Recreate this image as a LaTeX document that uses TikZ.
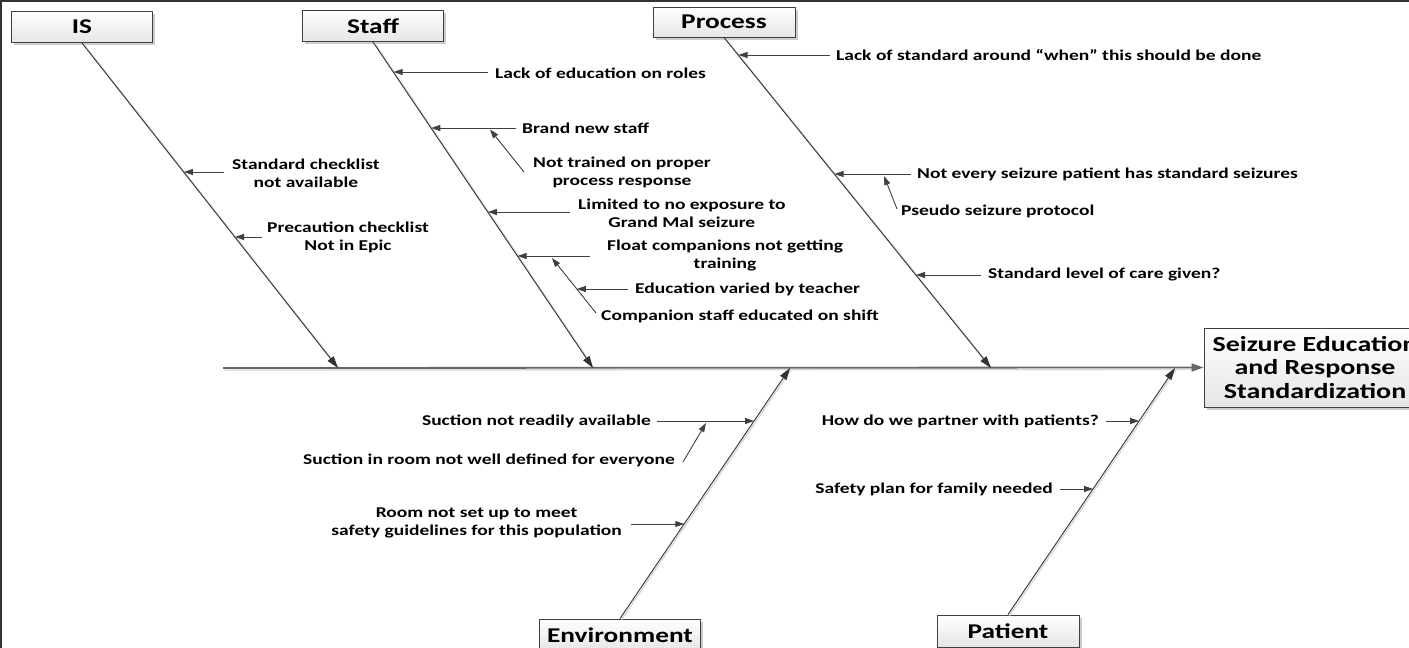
\documentclass[tikz,border=0pt]{standalone}
\usepackage{fontspec}
\setmainfont{Carlito}[FakeStretch=1.3]
\usetikzlibrary{arrows.meta,shadows}
\begin{document}
\begin{tikzpicture}[x=1pt,y=-1pt,
  catbox/.style={draw=black!75, line width=1pt, top color=white, bottom color=black!10,
    inner sep=0pt, font=\bfseries\fontsize{21}{24}\selectfont,
    drop shadow={shadow xshift=2.5pt, shadow yshift=-2.5pt, fill=black, opacity=0.2}},
  cause/.style={font=\bfseries\fontsize{15}{18}\selectfont, inner sep=0pt, align=center, text=black},
  spine/.style={draw=black!60, line width=1.8pt, -{Triangle[length=12pt,width=8pt]}},
  bone/.style={draw=black!80, line width=0.9pt, -{Triangle[length=12pt,width=7.5pt]}},
  sub/.style={draw=black!75, line width=0.9pt, -{Triangle[length=9pt,width=6pt]}},
  bshadow/.style={draw=black!15, line width=1.4pt},
]
\useasboundingbox (0,0) rectangle (1409,648);
\clip (0,0) rectangle (1409,648);
\fill[white] (0,0) rectangle (1409,648);
\draw[black!80, line width=3pt] (0,648) -- (0,0) -- (1409,0);

% category and effect boxes
\node[catbox, minimum width=141pt, minimum height=31pt] (is) at (82,27) {IS};
\node[catbox, minimum width=141pt, minimum height=31pt] (staff) at (373,26) {Staff};
\node[catbox, minimum width=142pt, minimum height=30pt] (process) at (724,22) {Process};
\node[catbox, minimum width=161pt, minimum height=32pt] (env) at (620,635) {Environment};
\node[catbox, minimum width=142pt, minimum height=32pt] (patient) at (1008,631) {Patient};
\node[catbox, minimum width=222pt, minimum height=79pt, align=center,
  font=\bfseries\fontsize{21.5}{23.5}\selectfont] (effect) at (1315,367.5)
  {Seizure Education\\and Response\\Standardization};

% bone end points
\coordinate (tail) at (223,368);
\coordinate (isend) at (338,368);
\coordinate (staffend) at (593,368);
\coordinate (procend) at (991,368);
\coordinate (envend) at (790,368);
\coordinate (patend) at (1175,368);

% shadows of lines
\draw[bshadow] ([shift={(1.5,2)}]tail) -- ([shift={(-10,2)}]effect.west);
\draw[bshadow] ([shift={(1.5,1)}]is.south) -- ([shift={(1.5,1)}]isend);
\draw[bshadow] ([shift={(1.5,1)}]staff.south) -- ([shift={(1.5,1)}]staffend);
\draw[bshadow] ([shift={(1.5,1)}]process.south) -- ([shift={(1.5,1)}]procend);
\draw[bshadow] ([shift={(1.5,1)}]env.north) -- ([shift={(1.5,1)}]envend);
\draw[bshadow] ([shift={(1.5,1)}]patient.north) -- ([shift={(1.5,1)}]patend);

% spine and bones
\draw[spine] (tail) -- (effect.west);
\draw[bone] (is.south) -- (isend);
\draw[bone] (staff.south) -- (staffend);
\draw[bone] (process.south) -- (procend);
\draw[bone] (env.north) -- (envend);
\draw[bone] (patient.north) -- (patend);

% IS causes
\node[cause, anchor=west] (c1) at (232,173) {Standard checklist\\not available};
\node[cause, anchor=west] (c2) at (267,237) {Precaution checklist\\Not in Epic};
\coordinate (b1) at (183.9,172);
\coordinate (b2) at (235,237);
\draw[sub] (c1.west) ++(-8,-1) -- (b1);
\draw[sub] (c2.west) ++(-5,0) -- (b2);

% Staff causes
\node[cause, anchor=west] (c3) at (495,73) {Lack of education on roles};
\node[cause, anchor=west] (c4) at (522,128) {Brand new staff};
\node[cause, anchor=west] (c5) at (533,172) {Not trained on proper\\process response};
\node[cause, anchor=west] (c6) at (578,213) {Limited to no exposure to\\Grand Mal seizure};
\node[cause, anchor=west] (c7) at (607,255) {Float companions not getting\\training};
\node[cause, anchor=west] (c8) at (635,289) {Education varied by teacher};
\node[cause, anchor=west] (c9) at (601,316) {Companion staff educated on shift};
\coordinate (b3) at (393.6,72);
\coordinate (b4) at (431.3,128);
\coordinate (s4) at (490,129.5);
\coordinate (b6) at (487.9,212);
\coordinate (b7) at (517.5,256);
\coordinate (s7) at (552,258);
\coordinate (s8) at (576.8,289);
\draw[sub] (c3.west) ++(-7,-1) -- (b3);
\draw[sub] (c4.west) ++(-6,0) -- (b4);
\draw[sub] (c5.west) ++(-9,0) -- (s4);
\draw[sub] (c6.west) ++(-8,-1) -- (b6);
\draw[sub] (c7.west) ++(-17,1) -- (b7);
\draw[sub] (c8.west) ++(-7,0) -- (s8);
\draw[sub] (c9.west) ++(-5,-3) -- (s7);

% Process causes
\node[cause, anchor=west] (c10) at (836,55) {Lack of standard around “when” this should be done};
\node[cause, anchor=west] (c11) at (917,174) {Not every seizure patient has standard seizures};
\node[cause, anchor=west] (c12) at (901,211) {Pseudo seizure protocol};
\node[cause, anchor=west] (c13) at (988,275) {Standard level of care given?};
\coordinate (b10) at (738.5,55);
\coordinate (b11) at (834.5,174);
\coordinate (s11) at (884,176);
\coordinate (b13) at (916,275);
\draw[sub] (c10.west) ++(-6,0) -- (b10);
\draw[sub] (c11.west) ++(-6,0) -- (b11);
\draw[sub] (c12.west) ++(-4,-2) -- (s11);
\draw[sub] (c13.west) ++(-7,0) -- (b13);

% Environment causes
\node[cause, anchor=east] (c14) at (651,421) {Suction not readily available};
\node[cause, anchor=east] (c15) at (675,460) {Suction in room not well defined for everyone};
\node[cause, anchor=east] (c16) at (622,523) {Room not set up to meet\\safety guidelines for this population};
\coordinate (b14) at (754.1,421);
\coordinate (s14) at (706,423);
\coordinate (b16) at (684.3,524);
\draw[sub] (c14.east) ++(6,0) -- (b14);
\draw[sub] (c15.east) ++(8,2) -- (s14);
\draw[sub] (c16.east) ++(9,1) -- (b16);

% Patient causes
\node[cause, anchor=east] (c17) at (1099,421) {How do we partner with patients?};
\node[cause, anchor=east] (c18) at (1053,489) {Safety plan for family needed};
\coordinate (b17) at (1139.2,421);
\coordinate (b18) at (1093.2,489);
\draw[sub] (c17.east) ++(7,0) -- (b17);
\draw[sub] (c18.east) ++(7,0) -- (b18);
\end{tikzpicture}
\end{document}
